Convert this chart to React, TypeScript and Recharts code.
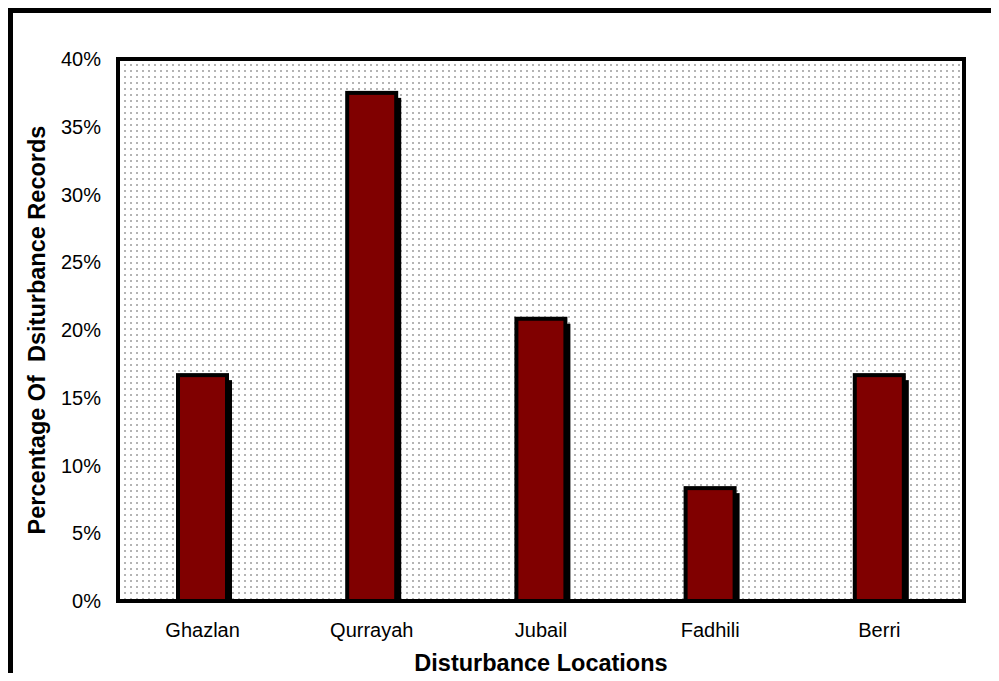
import React from 'react'
import { BarChart, Bar, XAxis, YAxis, CartesianGrid, ReferenceArea } from 'recharts'

const locations = ['Ghazlan', 'Qurrayah', 'Jubail', 'Fadhili', 'Berri']
const percentages = [16.67, 37.5, 20.83, 8.33, 16.67]
const yTicks = [0, 5, 10, 15, 20, 25, 30, 35, 40]

const chartData = locations.map((name, i) => ({ name, value: percentages[i] }))

const FONT = '"Liberation Sans", Arial, Helvetica, sans-serif'

// bar with a black drop shadow offset to the lower right
function ShadowBar(props: any) {
  const { x, y, width, height } = props
  if (height <= 0) return null
  return (
    <g>
      <rect x={x + 5} y={y + 5} width={width} height={height - 5} fill="#000" />
      <rect x={x} y={y} width={width} height={height} fill="#800000" stroke="#000" strokeWidth={4} />
    </g>
  )
}

function YTitle({ viewBox }: any) {
  const cx = viewBox.x + 37
  const cy = viewBox.y + viewBox.height / 2
  return (
    <text
      x={cx}
      y={cy}
      textAnchor="middle"
      transform={`rotate(-90, ${cx}, ${cy})`}
      fontFamily={FONT}
      fontWeight="bold"
      fontSize={23.5}
      fill="#000"
      xmlSpace="preserve"
      style={{ whiteSpace: 'pre' }}
    >
      Percentage Of  Dsiturbance Records
    </text>
  )
}

function XTitle({ viewBox }: any) {
  return (
    <text
      x={viewBox.x + viewBox.width / 2}
      y={viewBox.y + 70}
      textAnchor="middle"
      fontFamily={FONT}
      fontWeight="bold"
      fontSize={23.5}
      fill="#000"
    >
      Disturbance Locations
    </text>
  )
}

export default function App() {
  return (
    <div style={{ position: 'relative', width: 983, height: 665 }}>
      <div
        style={{
          position: 'absolute',
          left: 0,
          top: 0,
          width: 991,
          height: 673,
          boxSizing: 'border-box',
          borderLeft: '5px solid #000',
          borderTop: '5px solid #000',
        }}
      />
      <div style={{ position: 'absolute', left: 0, top: 0 }}>
        <BarChart
          width={983}
          height={673}
          data={chartData}
          margin={{ top: 51, right: 27, left: 0, bottom: 8 }}
        >
          <defs>
            <pattern id="dots" width={6} height={6} patternUnits="userSpaceOnUse">
              <rect x={0} y={0} width={6} height={6} fill="#fff" />
              <rect x={2} y={2} width={2} height={2} fill="#b4b4b4" />
            </pattern>
          </defs>
          <CartesianGrid fill="url(#dots)" horizontal={false} vertical={false} />
          <XAxis
            dataKey="name"
            axisLine={false}
            tickLine={false}
            tickSize={0}
            tickMargin={22}
            height={72}
            tick={{ fill: '#000', fontSize: 20, fontFamily: FONT }}
            label={{ content: XTitle }}
          />
          <YAxis
            domain={[0, 40]}
            ticks={yTicks}
            tickFormatter={(v) => `${v}%`}
            axisLine={false}
            tickLine={false}
            tickSize={0}
            tickMargin={17}
            width={110}
            tick={{ fill: '#000', fontSize: 20, fontFamily: FONT }}
            label={{ content: YTitle }}
          />
          <Bar dataKey="value" barSize={49} shape={ShadowBar} isAnimationActive={false} />
          <ReferenceArea y1={0} y2={40} fill="none" stroke="#000" strokeWidth={4} ifOverflow="visible" />
        </BarChart>
      </div>
    </div>
  )
}
